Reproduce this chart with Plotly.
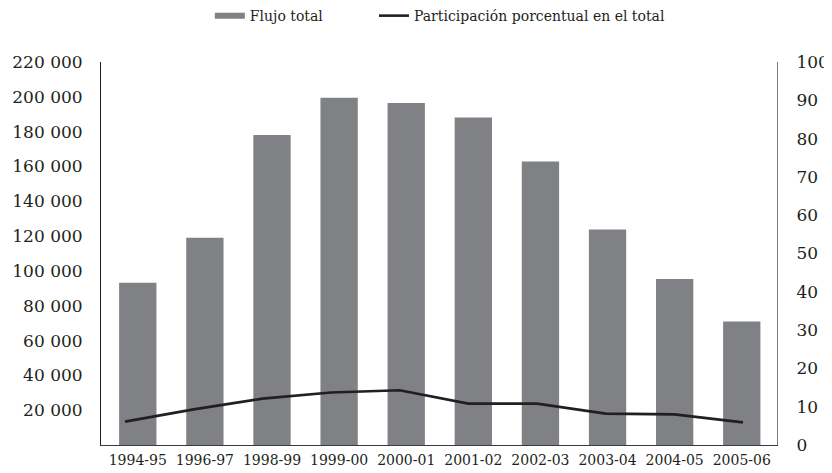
import plotly.graph_objects as go

# ---- data ----
periods = ["1994-95", "1996-97", "1998-99", "1999-00", "2000-01",
           "2001-02", "2002-03", "2003-04", "2004-05", "2005-06"]
flujo_total = [93200, 119000, 178000, 199400, 196500,
               188100, 162800, 123800, 95300, 70900]
participacion = [6.1, 9.3, 12.1, 13.7, 14.3, 10.8, 10.8, 8.2, 8.0, 5.9]

left_tick_vals = [20000, 40000, 60000, 80000, 100000, 120000,
                  140000, 160000, 180000, 200000, 220000]
left_tick_text = ["20 000", "40 000", "60 000", "80 000", "100 000", "120 000",
                  "140 000", "160 000", "180 000", "200 000", "220 000"]
right_tick_vals = [0, 10, 20, 30, 40, 50, 60, 70, 80, 90, 100]

BAR_COLOR = "#808185"
LINE_COLOR = "#231f20"
FONT = "DejaVu Serif"

fig = go.Figure()

# legend entry for the bars (wide grey swatch as in the original)
fig.add_trace(go.Scatter(x=[None], y=[None], mode="lines",
                         line=dict(color=BAR_COLOR, width=6),
                         name="Flujo total", xaxis="x", yaxis="y",
                         legend="legend"))

fig.add_trace(go.Bar(x=periods, y=flujo_total, name="Flujo total",
                     marker=dict(color=BAR_COLOR, line=dict(width=0)),
                     width=0.556, showlegend=False,
                     xaxis="x", yaxis="y"))

fig.add_trace(go.Scatter(x=periods, y=participacion, mode="lines",
                         line=dict(color=LINE_COLOR, width=2.6),
                         name="Participación porcentual en el total",
                         xaxis="x2", yaxis="y2", legend="legend2"))

legend_common = dict(orientation="h", xanchor="left", y=1.12, yanchor="middle",
                     font=dict(size=14, family=FONT, color="#231f20"),
                     bgcolor="rgba(0,0,0,0)", itemwidth=30)

fig.update_layout(
    width=824, height=465,
    margin=dict(l=93, r=55, t=54, b=27.5, pad=0, autoexpand=False),
    paper_bgcolor="white", plot_bgcolor="white",
    font=dict(family=FONT, color="#231f20", size=14),
    showlegend=True,
    legend=dict(x=0.161, **legend_common),
    legend2=dict(x=0.4038, **legend_common),
    xaxis=dict(type="category", range=[-0.548, 9.525],
               showline=True, linecolor="#3a3a3a", linewidth=1,
               showgrid=False, zeroline=False, ticks="",
               tickfont=dict(size=14), automargin=False,
               ticklabelstandoff=2),
    xaxis2=dict(type="category", overlaying="x", range=[-0.3495, 9.495],
                visible=False),
    yaxis=dict(range=[0, 220000], tickvals=left_tick_vals,
               ticktext=left_tick_text, showline=True,
               linecolor="#231f20", linewidth=1, showgrid=False,
               zeroline=False, ticks="", tickfont=dict(size=17),
               automargin=False, ticklabelstandoff=14),
    yaxis2=dict(range=[0, 100], tickvals=right_tick_vals,
                overlaying="y", side="right", showline=True,
                linecolor="#7a7a7a", linewidth=1, showgrid=False,
                zeroline=False, ticks="", tickfont=dict(size=17),
                automargin=False, ticklabelstandoff=15),
)

fig.write_html("out.html")
